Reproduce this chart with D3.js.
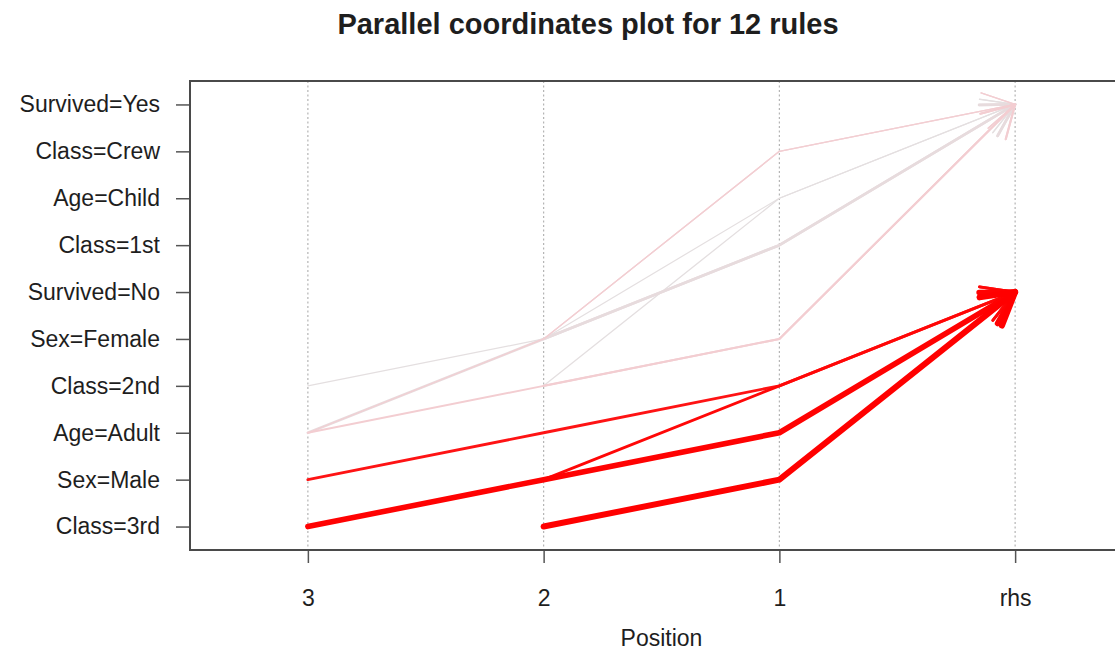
<!DOCTYPE html>
<html>
<head>
<meta charset="utf-8">
<script src="https://cdn.jsdelivr.net/npm/d3@7"></script>
<style>
  body { margin: 0; background: #fff; }
  svg text { font-family: "Liberation Sans", Arial, sans-serif; fill: #1e1e1e; }
</style>
</head>
<body>
<svg id="chart" width="1115" height="652"></svg>
<script>
// Item levels on the vertical axis, bottom to top
const items = ["Class=3rd", "Sex=Male", "Age=Adult", "Class=2nd", "Sex=Female",
               "Survived=No", "Class=1st", "Age=Child", "Class=Crew", "Survived=Yes"];
// Positions on the horizontal axis (LHS items count back from the consequent)
const positions = ["3", "2", "1", "rhs"];

// Titanic association rules: LHS items listed from the outermost position inward
const ruleLhs = [
  ["Class=2nd", "Age=Child"],
  ["Class=2nd", "Sex=Female", "Age=Child"],
  ["Sex=Female", "Class=1st"],
  ["Age=Adult", "Sex=Female", "Class=1st"],
  ["Class=2nd", "Sex=Female"],
  ["Sex=Female", "Class=Crew"],
  ["Age=Adult", "Sex=Female", "Class=Crew"],
  ["Age=Adult", "Class=2nd", "Sex=Female"],
  ["Sex=Male", "Age=Adult", "Class=2nd"],
  ["Sex=Male", "Class=2nd"],
  ["Class=3rd", "Sex=Male", "Age=Adult"],
  ["Class=3rd", "Sex=Male"]
];
const ruleRhs = ["Survived=Yes", "Survived=Yes", "Survived=Yes", "Survived=Yes",
                 "Survived=Yes", "Survived=Yes", "Survived=Yes", "Survived=Yes",
                 "Survived=No", "Survived=No", "Survived=No", "Survived=No"];
const ruleSupport = [0.0109, 0.0059, 0.0641, 0.0636, 0.0423, 0.0091,
                     0.0091, 0.0363, 0.0700, 0.0700, 0.1758, 0.1917];
const ruleLift = [3.096, 3.096, 3.010, 3.010, 2.716, 2.692,
                  2.692, 2.663, 1.354, 1.271, 1.237, 1.222];

const chartTitle = "Parallel coordinates plot for 12 rules";
const xTitle = "Position";

const svg = d3.select("#chart");
const box = { left: 190, right: 1133, top: 81, bottom: 550 };

const x = d3.scalePoint().domain(positions).range([box.left, box.right]).padding(0.5);
const y = d3.scalePoint().domain(items).range([box.bottom, box.top]).padding(0.5);

// line width follows support; colour follows lift (low lift = red, high lift = pale grey)
const width = d3.scaleLinear().domain(d3.extent(ruleSupport)).range([1.2, 6]);
const liftPos = d3.scaleLinear().domain(d3.extent(ruleLift)).range([0, 1]);
const palette = d3.scaleLinear().domain([0, 0.75, 1])
  .range(["#ff0000", "#f4cbd0", "#e4dfe0"]);
const colour = v => palette(liftPos(v));

// title
svg.append("text")
  .attr("x", 588).attr("y", 34)
  .attr("text-anchor", "middle")
  .style("font-size", "29px").style("font-weight", "bold")
  .text(chartTitle);

// dotted vertical guides at every position
svg.append("g").selectAll("line").data(positions).join("line")
  .attr("x1", d => x(d)).attr("x2", d => x(d))
  .attr("y1", box.top).attr("y2", box.bottom)
  .attr("stroke", "#b4b4b4").attr("stroke-width", 1.2)
  .attr("stroke-dasharray", "2,2.5");

// rules
const rules = ruleLhs.map((lhs, i) => {
  const start = positions.length - 1 - lhs.length;
  const pts = lhs.map((it, k) => [x(positions[start + k]), y(it)]);
  pts.push([x("rhs"), y(ruleRhs[i])]);
  return { pts, support: ruleSupport[i], lift: ruleLift[i] };
}).sort((a, b) => d3.descending(a.lift, b.lift));

const line = d3.line();
const headLen = 36, headAngle = Math.PI / 6;

const rg = svg.append("g").attr("fill", "none")
  .attr("stroke-linecap", "round").attr("stroke-linejoin", "round");

rules.forEach(r => {
  const g = rg.append("g")
    .attr("stroke", colour(r.lift))
    .attr("stroke-width", width(r.support));
  g.append("path").attr("d", line(r.pts));
  const tip = r.pts[r.pts.length - 1];
  const prev = r.pts[r.pts.length - 2];
  const ang = Math.atan2(prev[1] - tip[1], prev[0] - tip[0]);
  const b1 = [tip[0] + headLen * Math.cos(ang + headAngle), tip[1] + headLen * Math.sin(ang + headAngle)];
  const b2 = [tip[0] + headLen * Math.cos(ang - headAngle), tip[1] + headLen * Math.sin(ang - headAngle)];
  g.append("path").attr("d", line([b1, tip, b2]));
});

// axes
const yAxis = svg.append("g")
  .attr("transform", `translate(${box.left},0)`)
  .call(d3.axisLeft(y).tickSize(14).tickPadding(16));
yAxis.select(".domain").remove();
yAxis.selectAll(".tick line").attr("stroke", "#555").attr("stroke-width", 1.5);
yAxis.selectAll(".tick text").style("font-size", "23px").attr("fill", "#1e1e1e");

const xAxis = svg.append("g")
  .attr("transform", `translate(0,${box.bottom})`)
  .call(d3.axisBottom(x).tickSize(13).tickPadding(27));
xAxis.select(".domain").remove();
xAxis.selectAll(".tick line").attr("stroke", "#555").attr("stroke-width", 1.5);
xAxis.selectAll(".tick text").style("font-size", "23px").attr("fill", "#1e1e1e");

svg.append("text")
  .attr("x", (box.left + box.right) / 2).attr("y", 646)
  .attr("text-anchor", "middle")
  .style("font-size", "23px")
  .text(xTitle);

// plot frame
svg.append("rect")
  .attr("x", box.left).attr("y", box.top)
  .attr("width", box.right - box.left).attr("height", box.bottom - box.top)
  .attr("fill", "none").attr("stroke", "#4a4a4a").attr("stroke-width", 2);
</script>
</body>
</html>
